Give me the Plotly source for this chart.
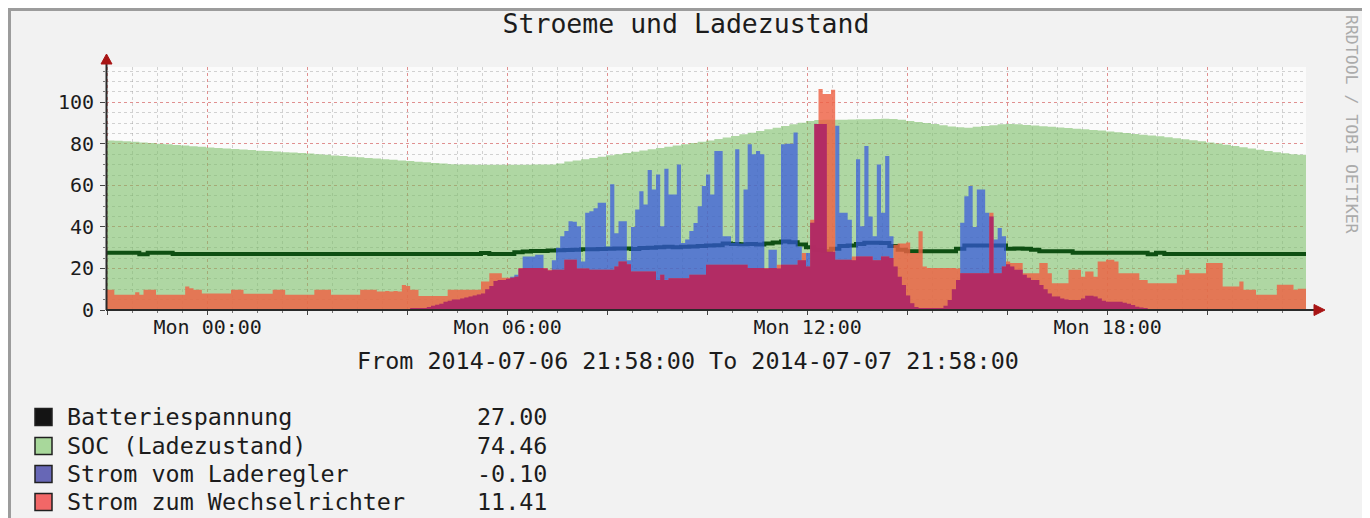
import numpy as np
import pandas as pd
import plotly.graph_objects as go

# ---------------- data ----------------
START = "2014-07-06 21:58:00"
END = "2014-07-07 21:58:00"

# SOC (Ladezustand), 10-minute steps
soc = [
    81.6, 81.5, 81.3, 81.0, 80.7, 80.4,
    80.1, 79.8, 79.5, 79.2, 78.9, 78.6,
    78.3, 78.0, 77.8, 77.5, 77.3, 77.0,
    76.7, 76.5, 76.3, 76.0, 75.8, 75.6,
    75.3, 75.0, 74.7, 74.4, 74.1, 73.8,
    73.5, 73.2, 72.9, 72.6, 72.3, 72.0,
    71.7, 71.4, 71.1, 70.8, 70.5, 70.2,
    70.0, 70.0, 69.9, 69.9, 69.9, 69.9,
    69.9, 69.9, 69.9, 70.0, 70.0, 70.1,
    70.5, 71.5, 72.0, 72.6, 73.2, 73.8,
    74.5, 75.0, 75.6, 76.2, 76.8, 77.4,
    78.0, 78.6, 79.2, 79.8, 80.4, 81.0,
    81.6, 82.3, 83.0, 83.8, 84.6, 85.4,
    86.2, 87.0, 87.8, 88.6, 89.4, 90.2,
    91.0, 91.5, 91.6, 91.6, 91.6, 91.7,
    91.8, 91.9, 92.0, 92.1, 92.0, 91.6,
    91.0, 90.5, 90.0, 89.5, 89.0, 88.4,
    88.0, 87.8, 88.2, 88.6, 89.0, 89.4,
    89.6, 89.4, 89.1, 88.8, 88.5, 88.2,
    87.9, 87.6, 87.3, 87.0, 86.7, 86.4,
    86.0, 85.6, 85.2, 84.8, 84.4, 84.0,
    83.6, 83.2, 82.7, 82.2, 81.7, 81.2,
    80.7, 80.2, 79.6, 79.0, 78.4, 77.8,
    77.2, 76.6, 76.0, 75.5, 75.0, 74.7,
    74.46,
]

# Batteriespannung, 10-minute steps
batteriespannung = [
    27.6, 27.6, 27.6, 27.6, 26.8, 27.6,
    27.6, 27.6, 27.0, 27.0, 27.0, 27.0,
    27.0, 27.0, 27.0, 27.0, 27.0, 27.0,
    27.0, 27.0, 27.0, 27.0, 27.0, 27.0,
    27.0, 27.0, 27.0, 27.0, 27.0, 27.0,
    27.0, 27.0, 27.0, 27.0, 27.0, 27.0,
    27.0, 27.0, 27.0, 27.0, 27.0, 27.0,
    27.0, 27.0, 27.0, 27.5, 27.0, 27.0,
    27.0, 27.8, 28.2, 28.4, 28.4, 28.6,
    28.8, 28.9, 29.0, 29.2, 29.3, 29.4,
    29.5, 29.6, 29.6, 29.4, 29.8, 30.0,
    30.2, 30.4, 30.2, 30.4, 30.6, 30.8,
    31.0, 31.2, 32.0, 31.8, 31.6, 31.8,
    31.5, 32.0, 32.5, 33.0, 32.6, 31.5,
    30.2, 29.0, 28.3, 29.5, 30.8, 31.0,
    31.8, 32.4, 32.4, 32.2, 30.8, 29.0,
    28.3, 28.3, 28.3, 28.3, 28.3, 28.3,
    29.5, 31.0, 31.0, 31.0, 31.0, 31.0,
    29.5, 29.6, 29.5, 29.0, 28.3, 28.3,
    28.3, 28.3, 27.6, 27.6, 27.6, 27.6,
    27.6, 27.6, 27.6, 27.6, 27.6, 26.8,
    27.6, 27.0, 27.0, 27.0, 27.0, 27.0,
    27.0, 27.0, 27.0, 27.0, 27.0, 27.0,
    27.0, 27.0, 27.0, 27.0, 27.0, 27.0,
    27.0,
]

# Strom vom Laderegler, 5-minute steps
strom_laderegler = [
    0, 0, 0, 0, 0, 0, 0, 0, 0, 0, 0, 0,
    0, 0, 0, 0, 0, 0, 0, 0, 0, 0, 0, 0,
    0, 0, 0, 0, 0, 0, 0, 0, 0, 0, 0, 0,
    0, 0, 0, 0, 0, 0, 0, 0, 0, 0, 0, 0,
    0, 0, 0, 0, 0, 0, 0, 0, 0, 0, 0, 0,
    0, 0, 0, 0, 0, 0, 0, 0, 0, 0, 0, 0,
    0.5, 1, 1, 1, 1, 1.5, 2, 2.5, 3, 4, 4.5, 5,
    5, 5.5, 6, 6.5, 7, 7.5, 8, 10, 11.5, 14, 14.5, 14.5,
    15, 16, 17, 20, 25.8, 25.8, 25.8, 26.6, 26.6, 20, 19, 24,
    30, 35.5, 38, 42.7, 42.5, 40.3, 23.4, 46.8, 47.5, 49, 51.6, 51.6,
    30.6, 60.5, 37, 42.7, 42.7, 24, 40, 48.4, 57.2, 50.8, 67.4, 58,
    65.3, 40.3, 68, 55.6, 55.6, 70.1, 32.2, 33.9, 38, 41.9, 50, 59.7,
    65.3, 55.6, 76.6, 76.6, 35.5, 35.5, 32.4, 77.4, 32, 58, 79.8, 75,
    76.6, 75, 20, 29, 29, 20, 79.8, 80, 80, 85.5, 30.6, 24,
    27.5, 42, 89.5, 89.5, 89.5, 28, 28, 88.7, 46.8, 46.8, 43.5, 24,
    72.6, 40.3, 79, 45, 35.5, 70.1, 46.8, 74.2, 35.5, 21, 16, 12,
    7, 3.2, 1.5, 1, 1, 1, 1, 1, 1, 2, 4.8, 10,
    14.5, 42, 54.8, 59.7, 40, 58, 58, 46.8, 45, 33.9, 39.5, 35.5,
    22, 21, 19.4, 19.4, 17, 15.5, 14.5, 14.5, 12, 10, 8, 6.5,
    6.5, 5.5, 5, 4.8, 4.8, 4.8, 5.5, 6.9, 6.9, 6.5, 5.5, 4.5,
    4, 4, 4, 4, 3.5, 3, 2.4, 1.6, 1.2, 1, 0.5, 0.3,
    0, 0, 0, 0, 0, 0, 0, 0, 0, 0, 0, 0,
    0, 0, 0, 0, 0, 0, 0, 0, 0, 0, 0, 0,
    0, 0, 0, 0, 0, 0, 0, 0, 0, 0, 0, 0,
    -0.1,
]

# Strom zum Wechselrichter, 5-minute steps
strom_wechselrichter = [
    9.7, 9.7, 7.3, 7.3, 7.3, 7.3, 7.3, 8.5, 7.3, 9.7, 9.7, 9.7,
    7.3, 7.3, 7.3, 7.3, 7.3, 7.3, 7.3, 11.3, 10.5, 9.7, 9.7, 8,
    8, 8, 8, 8, 8, 8, 9.7, 9.7, 9.7, 7.8, 7.8, 7.8,
    7.8, 7.8, 7.8, 7.8, 9.7, 9.7, 9.7, 7.3, 7.3, 7.3, 7.3, 7.3,
    7.3, 7.3, 9.7, 9.7, 9.7, 9.7, 7.3, 7.3, 7.3, 7.3, 7.3, 7.3,
    7.3, 9.7, 9.7, 9.7, 9.7, 8.9, 8.9, 9.2, 8.9, 9.2, 8.9, 12,
    11.5, 9.7, 9.7, 6.8, 6.8, 6.8, 6.8, 6.8, 6.8, 6.8, 9.7, 9.7,
    9.7, 9.7, 9.7, 9.7, 9.7, 9.7, 13.7, 13.7, 17.7, 17.7, 17.7, 15.5,
    15.5, 15.5, 16, 20.2, 20.2, 20.2, 20.2, 20.2, 20.2, 20.2, 19.4, 19.4,
    19.4, 19.4, 24.2, 24.2, 24.2, 20, 20, 20, 19.4, 19.4, 19.4, 19.4,
    19.4, 19.4, 21, 23.4, 23.4, 22, 18.5, 18.5, 18.5, 18.5, 18.5, 18.5,
    14.5, 17, 14.5, 15.3, 15.3, 15.3, 15.3, 15.3, 17, 17, 17, 17,
    21.8, 21.8, 21.8, 21.8, 21.8, 21.8, 21.8, 21.8, 21.8, 21.8, 20.2, 20.2,
    20.2, 20.2, 20.2, 20.2, 20.2, 21.8, 21.8, 21.8, 21.8, 21.8, 24, 27.5,
    21, 43.5, 89.5, 106.4, 104, 104, 106, 24.2, 24.2, 24.2, 24.2, 25.8,
    25.8, 25.8, 25.8, 25.8, 24, 24, 25.8, 25.8, 25, 31.4, 32, 32,
    32.5, 27.4, 27.4, 37.9, 21, 20.2, 20.2, 20.2, 20.2, 20.2, 20.2, 20.2,
    20, 17.7, 17.7, 17.7, 17.7, 17.7, 17.7, 17.7, 46.8, 17.7, 17.7, 21,
    23.4, 22.6, 22.6, 22.6, 17.7, 17.7, 17.7, 17.7, 22.6, 22.6, 17.7, 12.9,
    12.9, 12.9, 12.9, 19.4, 19.4, 19.4, 16, 18.5, 18.5, 16, 23.4, 23.4,
    24.2, 24.2, 23.4, 17.7, 17.7, 17.7, 17.7, 17.7, 14.5, 14.5, 12.9, 12.9,
    12.9, 12.9, 12.9, 12.9, 12.9, 17, 17, 19.4, 17.7, 17.7, 17.7, 17.7,
    22.6, 22.6, 22.6, 22.6, 11.3, 11.3, 11.3, 11.3, 13.7, 9.7, 9.7, 9.7,
    7.3, 7.3, 7.3, 7.3, 7.3, 12.1, 12.1, 12.1, 12.1, 9.7, 10.2, 10.2,
    11.41,
]

legend_names = ["Batteriespannung", "SOC (Ladezustand)",
                "Strom vom Laderegler", "Strom zum Wechselrichter"]
legend_values = ["27.00", "74.46", "-0.10", "11.41"]

x_tick_times = ["2014-07-06 22:00", "2014-07-07 00:00", "2014-07-07 02:00",
                "2014-07-07 04:00", "2014-07-07 06:00", "2014-07-07 08:00",
                "2014-07-07 10:00", "2014-07-07 12:00", "2014-07-07 14:00",
                "2014-07-07 16:00", "2014-07-07 18:00", "2014-07-07 20:00"]
x_tick_text = ["", "Mon 00:00", "", "", "Mon 06:00", "", "", "Mon 12:00",
               "", "", "Mon 18:00", ""]
y_tick_vals = [0, 20, 40, 60, 80, 100]

TITLE = "Stroeme und Ladezustand"
SUBTITLE = "From 2014-07-06 21:58:00 To 2014-07-07 21:58:00"
WATERMARK = "RRDTOOL / TOBI OETIKER"

# ---------------- styling ----------------
FONT = "DejaVu Sans Mono"
TXT = "#1c1c1c"
OFF = 8                      # page body margin
W, H = 1370 - OFF, 518 - OFF
ML, MR, MT, MB = 98, 64, 59, 208
PW, PH = W - ML - MR, H - MT - MB
PLOT_X0, PLOT_Y0 = ML + OFF, H - MB + OFF   # plot origin in screen pixels


def px(x):   # screen pixel -> paper
    return (x - PLOT_X0) / PW


def py(y):
    return (PLOT_Y0 - y) / PH


t5 = pd.date_range(START, END, freq="5min")
t10 = pd.date_range(START, END, freq="10min")
overlap = np.minimum(np.array(strom_laderegler), np.array(strom_wechselrichter))

fig = go.Figure()
fig.add_trace(go.Scatter(x=t10, y=soc, mode="lines", line=dict(width=0, shape="hv"),
                         fill="tozeroy", fillcolor="rgba(120,190,100,0.58)"))
fig.add_trace(go.Scatter(x=t10, y=batteriespannung, mode="lines",
                         line=dict(width=4, color="#0e4f12", shape="hv")))
fig.add_trace(go.Scatter(x=t5, y=strom_laderegler, mode="lines", line=dict(width=0, shape="hv"),
                         fill="tozeroy", fillcolor="rgba(53,86,223,0.70)"))
fig.add_trace(go.Scatter(x=t5, y=strom_wechselrichter, mode="lines", line=dict(width=0, shape="hv"),
                         fill="tozeroy", fillcolor="rgba(238,98,68,0.82)"))
fig.add_trace(go.Scatter(x=t5, y=overlap, mode="lines", line=dict(width=0, shape="hv"),
                         fill="tozeroy", fillcolor="rgba(170,30,102,0.80)"))

MAJOR = "rgba(240,80,80,0.5)"
MINOR = "rgba(150,150,150,0.42)"

fig.update_xaxes(
    type="date", range=[START, END],
    tickmode="array", tickvals=x_tick_times, ticktext=x_tick_text,
    showgrid=True, gridcolor=MAJOR, griddash="dot", gridwidth=1,
    ticks="outside", ticklen=4, tickcolor="#444", ticklabelstandoff=-5,
    tickfont=dict(family=FONT, size=20, color=TXT),
    minor=dict(dtick=1800000, tick0="2014-07-06 22:00", showgrid=True,
               gridcolor=MINOR, griddash="dot", ticks="outside", ticklen=2,
               tickcolor="#777"),
    showline=False, zeroline=False, fixedrange=True,
)
fig.update_yaxes(
    range=[0, 117], tickmode="array", tickvals=y_tick_vals,
    showgrid=True, gridcolor=MAJOR, griddash="dot", gridwidth=1,
    ticks="outside", ticklen=5, tickcolor="#444", ticklabelstandoff=2,
    tickfont=dict(family=FONT, size=20, color=TXT),
    minor=dict(dtick=5, showgrid=True, gridcolor=MINOR, griddash="dot",
               ticks="outside", ticklen=2, tickcolor="#777"),
    showline=False, zeroline=False, fixedrange=True,
)

shapes = [
    # outer frame
    dict(type="rect", xref="paper", yref="paper", layer="below",
         x0=px(9.5), x1=px(1364), y0=py(540), y1=py(9.5),
         fillcolor="#f2f2f2", line=dict(color="#9c9c9c", width=3)),
    # plot background
    dict(type="rect", xref="paper", yref="paper", layer="below",
         x0=0, x1=1, y0=0, y1=1, fillcolor="#fbfbfb", line=dict(width=0)),
    # axes
    dict(type="line", xref="paper", yref="paper", layer="above",
         x0=px(106.5), x1=px(106.5), y0=py(310), y1=py(62),
         line=dict(color="#2a2a2a", width=2)),
    dict(type="line", xref="paper", yref="paper", layer="above",
         x0=px(106), x1=px(1316), y0=py(310), y1=py(310),
         line=dict(color="#2a2a2a", width=2)),
    # arrow heads
    dict(type="path", xref="paper", yref="paper", layer="above",
         path=f"M {px(106.5)},{py(54)} L {px(101)},{py(64)} L {px(112)},{py(64)} Z",
         fillcolor="#a81414", line=dict(color="#a81414", width=1)),
    dict(type="path", xref="paper", yref="paper", layer="above",
         path=f"M {px(1325)},{py(310)} L {px(1314)},{py(304.5)} L {px(1314)},{py(315.5)} Z",
         fillcolor="#a81414", line=dict(color="#a81414", width=1)),
]

annotations = [
    dict(text=SUBTITLE, xref="paper", yref="paper", x=px(688), y=py(361),
         xanchor="center", yanchor="middle", showarrow=False,
         font=dict(family=FONT, size=23.4, color=TXT)),
    dict(text=WATERMARK, xref="paper", yref="paper", x=px(1352), y=py(124),
         xanchor="center", yanchor="middle", showarrow=False, textangle=90,
         font=dict(family=FONT, size=16.5, color="#ababab")),
]

legend_swatch = ["#141414", "#a8d89b", "#6767b6", "#f26767"]
row_y = [417, 446, 474, 502]
for name, val, col, yy in zip(legend_names, legend_values, legend_swatch, row_y):
    shapes.append(dict(type="rect", xref="paper", yref="paper", layer="above",
                       x0=px(35), x1=px(52), y0=py(yy + 8.5), y1=py(yy - 8.5),
                       fillcolor=col, line=dict(color="#202020", width=1.5)))
    annotations.append(dict(text=name, xref="paper", yref="paper", x=px(65), y=py(yy),
                            xanchor="left", yanchor="middle", showarrow=False,
                            font=dict(family=FONT, size=23.4, color=TXT)))
    annotations.append(dict(text=val, xref="paper", yref="paper", x=px(549), y=py(yy),
                            xanchor="right", yanchor="middle", showarrow=False,
                            font=dict(family=FONT, size=23.4, color=TXT)))

fig.update_layout(
    width=W, height=H,
    margin=dict(l=ML, r=MR, t=MT, b=MB, autoexpand=False),
    paper_bgcolor="white", plot_bgcolor="rgba(0,0,0,0)",
    showlegend=False,
    title=dict(text=TITLE, xref="container", yref="container", x=(686 - OFF) / W,
               y=1 - (24 - OFF) / H, xanchor="center", yanchor="middle",
               font=dict(family=FONT, size=26.5, color=TXT)),
    shapes=shapes, annotations=annotations,
)

fig.write_html("out.html")
